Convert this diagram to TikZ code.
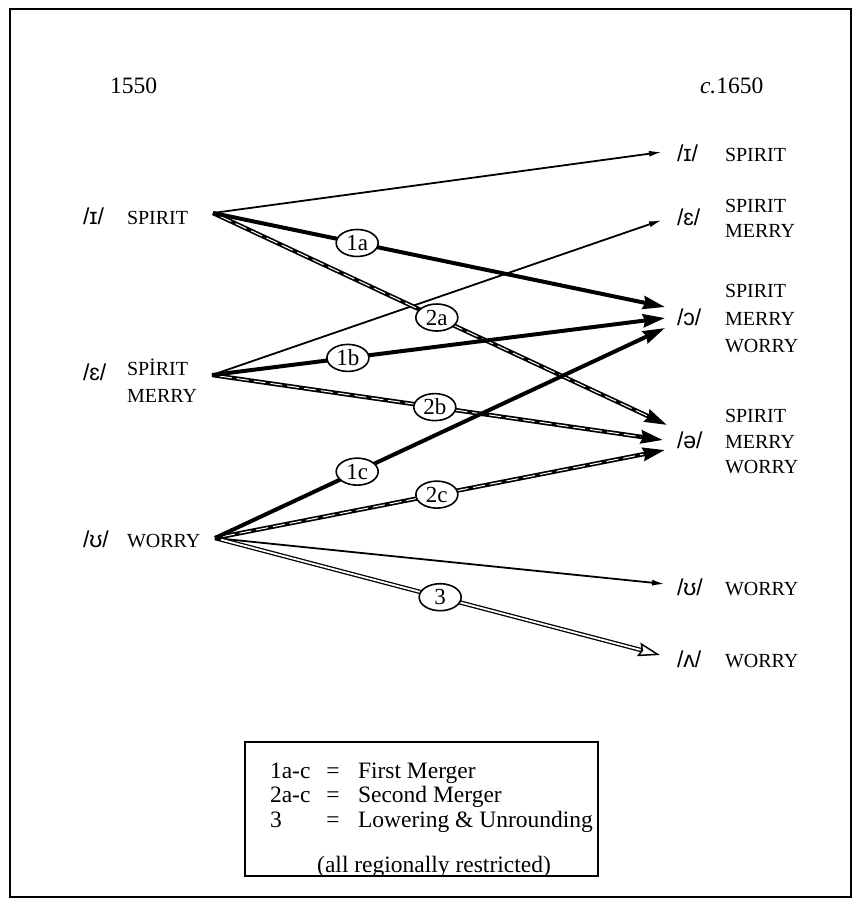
\documentclass[tikz,border=0pt]{standalone}
\usepackage{fontspec}
\setmainfont{Liberation Serif}
\newfontfamily\ipafont{Liberation Sans}
\usetikzlibrary{arrows.meta,shapes.geometric}
\begin{document}
\begin{tikzpicture}[x=1pt,y=-1pt,
  every node/.style={inner sep=0pt, outer sep=0pt},
  ipa/.style={font=\ipafont\fontsize{23}{26}\selectfont, anchor=base west},
  word/.style={font=\fontsize{20}{26}\selectfont, anchor=base west},
  yr/.style={font=\fontsize{23.5}{28}\selectfont, anchor=base west},
  thinarr/.style={line width=1.8pt, -{Latex[length=13pt,width=6pt]}},
  thickarr/.style={line width=4pt, -{Stealth[length=22pt,width=13pt,inset=2pt]}},
  dblblack/.style={line width=4.4pt, -{Stealth[length=22pt,width=13pt,inset=2pt]}},
  dblwhite/.style={white, line width=1pt, dash pattern=on 12pt off 5pt, shorten >=22pt, shorten <=8pt},
  lowblack/.style={line width=4.4pt, -{Stealth[length=22pt,width=14pt,inset=3pt,fill=white,line width=1.5pt]}},
  lowwhite/.style={white, line width=1.8pt, shorten >=20pt, shorten <=6pt},
  lab/.style={ellipse, draw, line width=1.6pt, fill=white, minimum width=42pt, minimum height=27pt, font=\fontsize{23}{26}\selectfont},
  leg/.style={font=\fontsize{23.5}{28}\selectfont, anchor=base west}
]
\useasboundingbox (0,0) rectangle (860,906);
\draw[line width=2pt] (10,9) rectangle (851,897);

% years
\node[yr] (y1) at (110,93) {1550};
\node[yr] (y2) at (700,93) {\textit{c.}1650};

% left column
\node[ipa] (lI) at (83,224) {/ɪ/};
\node[word] (lIw) at (127,224) {SPIRIT};
\node[ipa] (lE) at (83,380) {/ɛ/};
\node[word] (lEw1) at (127,375) {SPİRIT};
\node[word] (lEw2) at (127,402) {MERRY};
\node[ipa] (lU) at (83,547) {/ʊ/};
\node[word] (lUw) at (127,547) {WORRY};

% right column
\node[ipa] (rI) at (677,161) {/ɪ/};
\node[word] (rIw) at (725,161) {SPIRIT};
\node[ipa] (rE) at (677,225) {/ɛ/};
\node[word] (rEw1) at (725,212) {SPIRIT};
\node[word] (rEw2) at (725,237) {MERRY};
\node[ipa] (rO) at (677,325) {/ɔ/};
\node[word] (rOw1) at (725,297) {SPIRIT};
\node[word] (rOw2) at (725,325) {MERRY};
\node[word] (rOw3) at (725,352) {WORRY};
\node[ipa] (rS) at (677,448) {/ə/};
\node[word] (rSw1) at (725,422) {SPIRIT};
\node[word] (rSw2) at (725,448) {MERRY};
\node[word] (rSw3) at (725,473) {WORRY};
\node[ipa] (rU) at (677,595) {/ʊ/};
\node[word] (rUw) at (725,595) {WORRY};
\node[ipa] (rL) at (677,667) {/ʌ/};
\node[word] (rLw) at (725,667) {WORRY};

% connector end points
\coordinate (sI) at (213,213);
\coordinate (sE) at (212,375);
\coordinate (sU) at (215,538);
\coordinate (tI) at (662,152);
\coordinate (tE) at (662,220);
\coordinate (tO1) at (665,307);
\coordinate (tO2) at (665,318);
\coordinate (tO3) at (665,328);
\coordinate (tS1) at (667,425);
\coordinate (tS2) at (663,440);
\coordinate (tS3) at (665,450);
\coordinate (tU) at (665,584);
\coordinate (tL) at (660,655);

% thin arrows
\draw[thinarr] (sI) -- (tI);
\draw[thinarr] (sE) -- (tE);
\draw[thinarr] (sU) -- (tU);

% line 3
\draw[lowblack] (sU) -- (tL);
\draw[lowwhite] (sU) -- (tL);

% second merger
\draw[dblblack] (sI) -- (tS1);
\draw[dblwhite] (sI) -- (tS1);
\draw[dblblack] (sE) -- (tS2);
\draw[dblwhite] (sE) -- (tS2);
\draw[dblblack] (sU) -- (tS3);
\draw[dblwhite] (sU) -- (tS3);

% first merger
\draw[thickarr] (sI) -- (tO1);
\draw[thickarr] (sE) -- (tO2);
\draw[thickarr] (sU) -- (tO3);

% labels
\path (sI) -- node[lab,pos=0.319] (n1a) {1a} (tO1);
\path (sI) -- node[lab,pos=0.493] (n2a) {2a} (tS1);
\path (sE) -- node[lab,pos=0.30] (n1b) {1b} (tO2);
\path (sE) -- node[lab,pos=0.494] (n2b) {2b} (tS2);
\path (sU) -- node[lab,pos=0.316] (n1c) {1c} (tO3);
\path (sU) -- node[lab,pos=0.493] (n2c) {2c} (tS3);
\path (sU) -- node[lab,pos=0.506] (n3) {3} (tL);

% legend
\draw[line width=2pt] (245,742) rectangle (598,876);
\node[leg] (k1) at (270,778) {1a-c};
\node[leg,anchor=base] (e1) at (333,778) {=};
\node[leg] (d1) at (358,778) {First Merger};
\node[leg] (k2) at (270,802) {2a-c};
\node[leg,anchor=base] (e2) at (333,802) {=};
\node[leg] (d2) at (358,802) {Second Merger};
\node[leg] (k3) at (270,827) {3};
\node[leg,anchor=base] (e3) at (333,827) {=};
\node[leg] (d3) at (358,827) {Lowering \& Unrounding};
\node[leg,anchor=base] (note) at (434,872) {(all regionally restricted)};
\end{tikzpicture}
\end{document}
